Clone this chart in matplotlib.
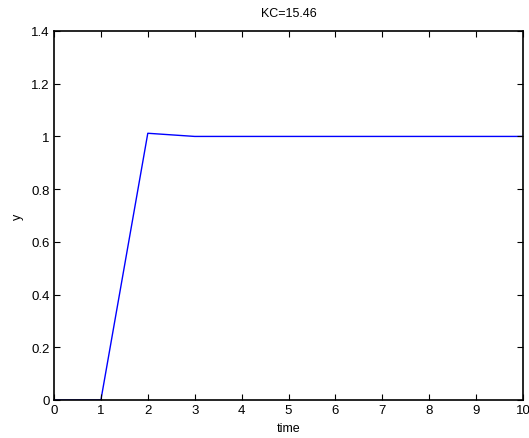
import numpy as np
import matplotlib
matplotlib.use("Agg")
from matplotlib import pyplot as plt

# step response samples
t = [0, 1, 2, 3, 4, 5, 6, 7, 8, 9, 10]
y = [0, 0, 1.012, 1.0, 1.0, 1.0, 1.0, 1.0, 1.0, 1.0, 1.0]
xticks = [0, 1, 2, 3, 4, 5, 6, 7, 8, 9, 10]
yticks = [0, 0.2, 0.4, 0.6, 0.8, 1.0, 1.2, 1.4]
ytick_labels = ['0', '0.2', '0.4', '0.6', '0.8', '1', '1.2', '1.4']

plt.rcParams['font.family'] = ['Liberation Sans', 'DejaVu Sans']

fig = plt.figure(figsize=(5.29, 4.39), dpi=100)
ax = fig.add_axes([54 / 529, 1 - 401 / 439, (523 - 54) / 529, (401 - 32) / 439])

ax.plot(t, y, color='#0000ff', lw=1, zorder=1)
ax.set_xlim(0, 10)
ax.set_ylim(0, 1.4)
ax.set_xticks(xticks)
ax.set_yticks(yticks)
ax.set_yticklabels(ytick_labels)
ax.tick_params(direction='in', top=True, right=True, length=4, width=0.8,
               labelsize=9.5, pad=3)
for s in ax.spines.values():
    s.set_linewidth(1.2)
    s.set_zorder(3)

ax.set_title('KC=15.46', fontsize=9, pad=11)
ax.set_xlabel('time', fontsize=9, labelpad=4)
ax.set_ylabel('y', fontsize=9, labelpad=5)

fig.savefig('out.png', dpi=100)
